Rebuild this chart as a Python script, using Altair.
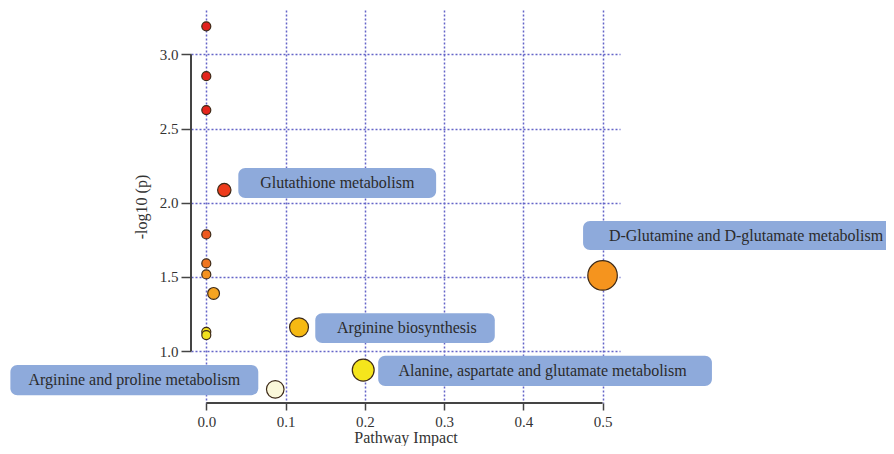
import altair as alt
import pandas as pd

# ---- data ----
impact = [0.0, 0.0, 0.0, 0.0227, 0.0, 0.0, 0.0, 0.0092, 0.0, 0.0, 0.117, 0.198, 0.087, 0.5]
neglogp = [3.19, 2.854, 2.625, 2.086, 1.787, 1.591, 1.517, 1.389, 1.130, 1.108, 1.160, 0.872, 0.742, 1.51]

x_ticks = [0.0, 0.1, 0.2, 0.3, 0.4, 0.5]
y_ticks = [1.0, 1.5, 2.0, 2.5, 3.0]

# annotation boxes (data units): label, text x, text y, box x1, x2, y1, y2
ann_label = ["Glutathione metabolism", "D-Glutamine and D-glutamate metabolism",
             "Arginine biosynthesis", "Alanine, aspartate and glutamate metabolism",
             "Arginine and proline metabolism"]
ann_tx = [0.1652, 0.681, 0.2531, 0.4243, -0.0908]
ann_ty = [2.133, 1.777, 1.155, 0.866, 0.804]
ann_x1 = [0.0404, 0.4754, 0.1375, 0.2169, -0.2472]
ann_x2 = [0.290, 0.875, 0.364, 0.638, 0.0656]
ann_y1 = [2.032, 1.681, 1.054, 0.764, 0.703]
ann_y2 = [2.234, 1.877, 1.256, 0.968, 0.906]

XDOM = [-0.0193, 0.5220]
YDOM = [0.65, 3.30]

pts = pd.DataFrame({"impact": impact, "logp": neglogp})
ann = pd.DataFrame({"label": ann_label, "tx": ann_tx, "ty": ann_ty,
                    "x1": ann_x1, "x2": ann_x2, "y1": ann_y1, "y2": ann_y2})

FONT = "Liberation Serif"
GRID = "#6464c8"
AX = "#444444"

xs = alt.Scale(domain=XDOM, nice=False, zero=False)
ys = alt.Scale(domain=YDOM, nice=False, zero=False)

xaxis = alt.Axis(values=x_ticks, format=".1f", title="Pathway Impact", domain=False,
                 grid=True, gridDash=[2, 2], gridColor=GRID, gridWidth=1.5,
                 tickSize=7, tickColor=AX, tickWidth=1.5, labelPadding=4, titlePadding=0)
yaxis = alt.Axis(values=y_ticks, format=".1f", title="-log10 (p)", domain=False,
                 grid=True, gridDash=[2, 2], gridColor=GRID, gridWidth=1.5,
                 tickSize=10, tickColor=AX, tickWidth=1.5, labelPadding=3, titlePadding=10)

base_grid = alt.Chart(pts).mark_point(opacity=0).encode(
    x=alt.X("impact:Q", scale=xs, axis=xaxis),
    y=alt.Y("logp:Q", scale=ys, axis=yaxis),
)

yframe = pd.DataFrame({"x": [XDOM[0]], "y": [min(y_ticks)], "y2": [max(y_ticks)]})
xframe = pd.DataFrame({"y": [YDOM[0]], "x": [min(x_ticks)], "x2": [max(x_ticks)]})

yline = alt.Chart(yframe).mark_rule(color=AX, strokeWidth=2).encode(
    x=alt.X("x:Q", scale=xs), y=alt.Y("y:Q", scale=ys), y2="y2:Q")
xline = alt.Chart(xframe).mark_rule(color=AX, strokeWidth=2).encode(
    y=alt.Y("y:Q", scale=ys), x=alt.X("x:Q", scale=xs), x2="x2:Q")

boxes = alt.Chart(ann).mark_rect(color="#8eaadb", cornerRadius=7).encode(
    x=alt.X("x1:Q", scale=xs), x2="x2:Q",
    y=alt.Y("y1:Q", scale=ys), y2="y2:Q")

texts = alt.Chart(ann).mark_text(font=FONT, fontSize=16, color="#2b2b2b",
                                 align="center", baseline="middle").encode(
    x=alt.X("tx:Q", scale=xs), y=alt.Y("ty:Q", scale=ys), text="label:N")

cdom = [0.74, 0.87, 1.13, 1.16, 1.39, 1.51, 1.6, 1.79, 2.09, 2.6, 3.2]
crng = ["#fbf8dc", "#f5e51c", "#f1df1e", "#f6b912", "#f6a421", "#f5941e",
        "#ef7320", "#ee5a20", "#ee3b1c", "#e5251c", "#e0201e"]

points = alt.Chart(pts).transform_calculate(
    sz="pow(9 + 29*sqrt(datum.impact), 2)"
).mark_circle(opacity=1, stroke="#3d2a18", strokeWidth=1.2).encode(
    x=alt.X("impact:Q", scale=xs),
    y=alt.Y("logp:Q", scale=ys),
    size=alt.Size("sz:Q", scale=None),
    color=alt.Color("logp:Q", scale=alt.Scale(domain=cdom, range=crng), legend=None),
)

chart = alt.layer(base_grid, yline, xline, boxes, points, texts).properties(
    width=429, height=393,
    autosize=alt.AutoSizeParams(type="none"),
    padding={"left": 183, "top": 2, "right": 266, "bottom": 43},
).configure_view(stroke=None).configure_axis(
    labelFont=FONT, labelFontSize=15, labelColor="#333333",
    titleFont=FONT, titleFontSize=16, titleColor="#333333", titleFontWeight="normal",
)

chart.save("out.html", embed_options={"renderer": "svg", "actions": False})
